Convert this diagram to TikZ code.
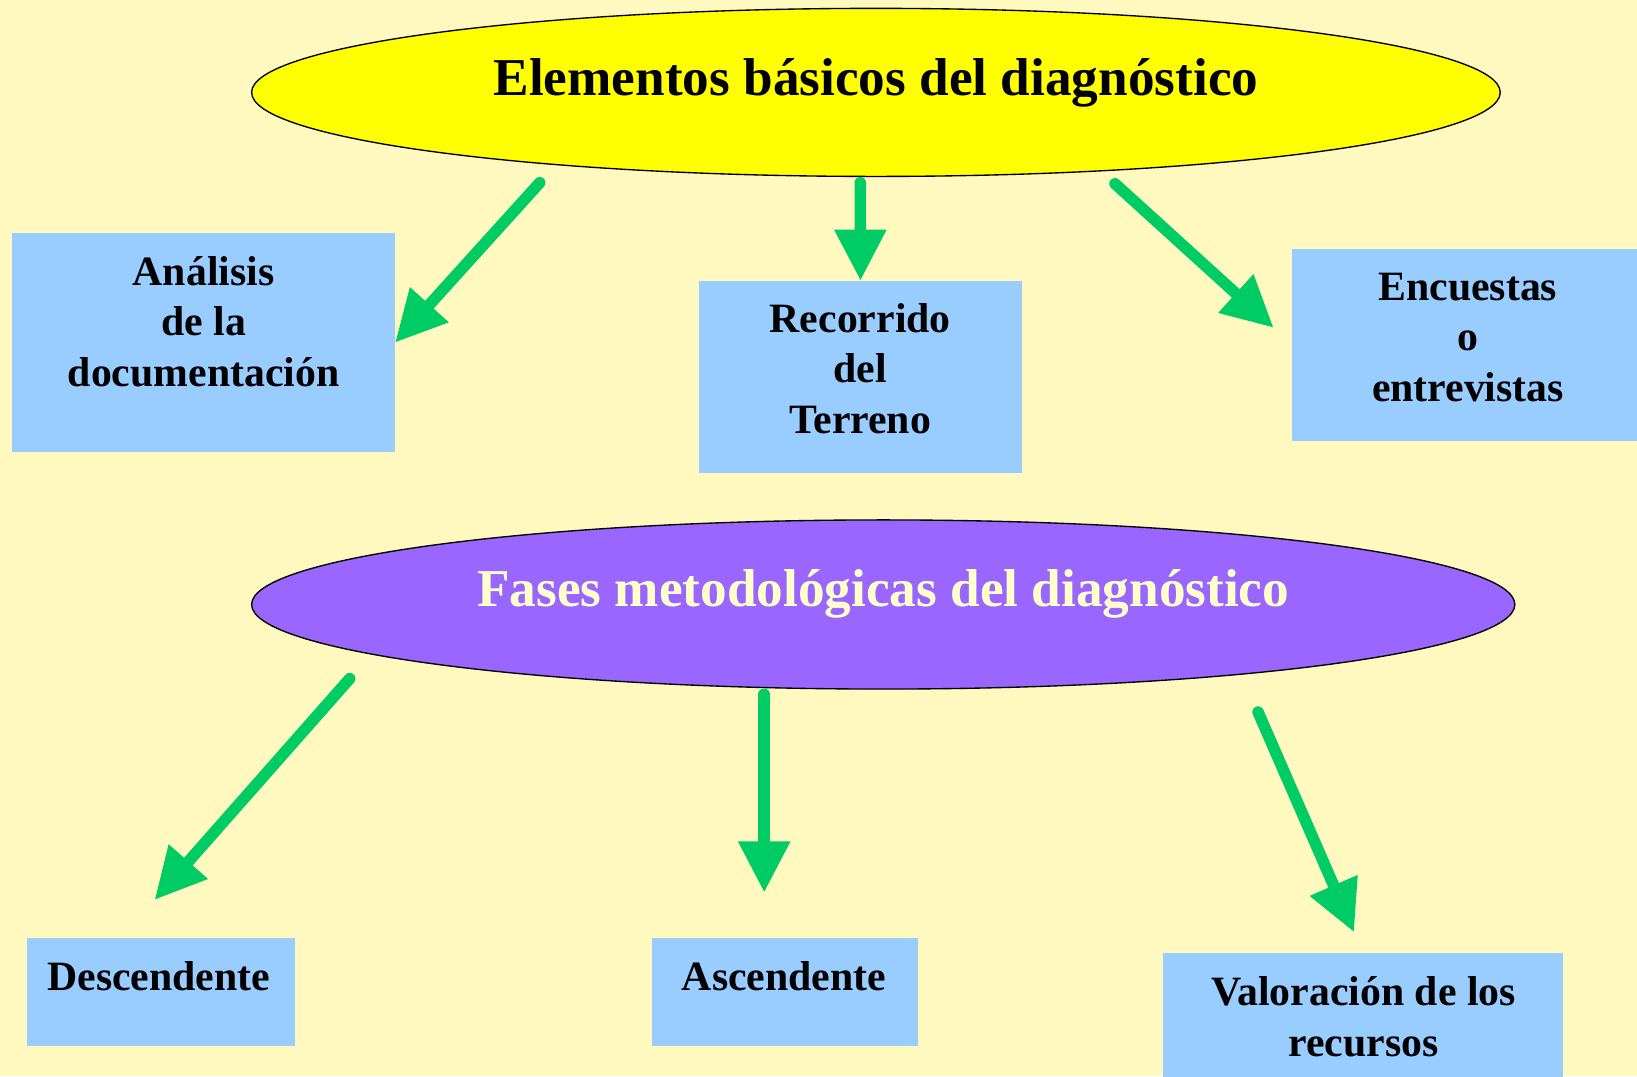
\documentclass[tikz,border=0pt]{standalone}
\usepackage{fontspec}
\setmainfont{Liberation Serif}
\usetikzlibrary{arrows.meta,shapes.geometric}
\definecolor{bgc}{RGB}{255,249,192}
\definecolor{ylw}{RGB}{255,255,0}
\definecolor{purp}{RGB}{153,102,255}
\definecolor{boxc}{RGB}{153,204,255}
\definecolor{grn}{RGB}{0,204,102}
\definecolor{ltxt}{RGB}{255,255,204}
\begin{document}
\begin{tikzpicture}[x=1pt,y=-1pt,
  boxst/.style={fill=boxc, draw=none, inner sep=0, anchor=north west},
  txt/.style={font=\bfseries\fontsize{40}{48.5}\selectfont, align=center, inner sep=0},
  titlest/.style={ellipse, draw=black, line width=1.3, inner sep=0,
    font=\bfseries\fontsize{51}{51}\selectfont, text height=40pt},
  arr/.style={draw=grn, line width=11, line cap=round,
    -{Triangle[width=47pt,length=49pt]}}]
\fill[bgc] (0,0) rectangle (1568,1031);
\useasboundingbox (0,0) rectangle (1568,1031);
% titles
\node[titlest, fill=ylw, minimum width=1196, minimum height=161, text depth=34pt] (e1) at (839,88.5) {Elementos básicos del diagnóstico};
\node[titlest, fill=purp, text=ltxt, minimum width=1210, minimum height=162, text depth=36pt] (e2) at (846,579) {Fases metodológicas del diagnóstico};
% boxes
\node[boxst, minimum width=367, minimum height=210] (b1) at (11,223) {};
\node[txt] (t1) at (195,308) {Análisis\\de la\\documentación};
\node[boxst, minimum width=310, minimum height=184] (b2) at (669,269) {};
\node[txt] (t2) at (824,353) {Recorrido\\del\\Terreno};
\node[boxst, minimum width=331, minimum height=184] (b3) at (1237,238) {};
\node[txt] (t3) at (1406,323) {Encuestas\\o\\entrevistas};
\node[boxst, minimum width=256, minimum height=104] (b4) at (26,898) {};
\node[txt] (t4) at (152,935) {Descendente};
\node[boxst, minimum width=255, minimum height=104] (b5) at (624,898) {};
\node[txt] (t5) at (751,935) {Ascendente};
\node[boxst, minimum width=383, minimum height=118] (b6) at (1114,913) {};
\node[txt] (t6) at (1306,974) {Valoración de los\\recursos};
% connector ends
\coordinate (s1) at (517,175);
\coordinate (s2) at (824,175);
\coordinate (s3) at (1068,176);
\coordinate (c3) at (1220,314);
\coordinate (s4) at (335,650);
\coordinate (c4) at (148,862);
\coordinate (s5) at (732,665);
\coordinate (c5) at (732,855);
\coordinate (s6) at (1205,682);
\coordinate (c6) at (1297,893);
% arrows
\draw[arr] (s1) -- (b1.east);
\draw[arr] (s2) -- (b2.north);
\draw[arr] (s3) -- (c3);
\draw[arr] (s4) -- (c4);
\draw[arr] (s5) -- (c5);
\draw[arr] (s6) -- (c6);
\end{tikzpicture}
\end{document}
